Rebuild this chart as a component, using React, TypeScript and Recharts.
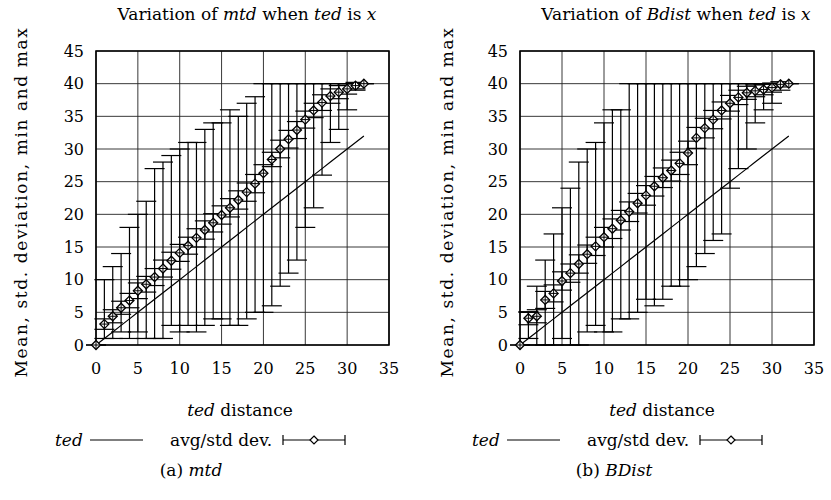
import {
  CartesianGrid,
  ComposedChart,
  ErrorBar,
  Line,
  ReferenceArea,
  XAxis,
  YAxis,
} from "recharts";

const FONT = "'DejaVu Serif', 'Liberation Serif', serif";

const tedX = [
  0, 1, 2, 3, 4, 5, 6, 7, 8, 9, 10, 11, 12, 13, 14, 15, 16, 17, 18, 19, 20,
  21, 22, 23, 24, 25, 26, 27, 28, 29, 30, 31, 32,
];
const tedLine = [
  0, 1, 2, 3, 4, 5, 6, 7, 8, 9, 10, 11, 12, 13, 14, 15, 16, 17, 18, 19, 20,
  21, 22, 23, 24, 25, 26, 27, 28, 29, 30, 31, 32,
];

// (a) mtd
const mtdMean = [
  0, 3.2, 4.4, 5.7, 6.8, 8.3, 9.3, 10.4, 11.7, 12.9, 14.1, 15.2, 16.4, 17.6,
  18.7, 19.9, 21.0, 22.2, 23.4, 24.7, 26.3, 28.4, 30.0, 31.5, 32.9, 34.5, 35.9,
  37.1, 38.1, 38.7, 39.2, 39.7, 40,
];
const mtdStd = [
  0, 0.8, 1.0, 1.0, 1.1, 1.2, 1.2, 1.3, 1.3, 1.3, 1.3, 1.3, 1.4, 1.4, 1.4, 1.4,
  1.4, 1.4, 1.4, 1.4, 1.3, 1.1, 1.35, 1.35, 1.3, 1.3, 1.1, 1.2, 1.1, 1.0, 0.8,
  0.5, 0,
];
const mtdMin = [
  0, 1, 1, 2, 1, 2, 1, 1, 1, 3, 2, 3, 2, 3, 4, 4, 3, 3, 4, 5, 5, 6, 9, 11, 13,
  18, 21, 26, 31, 33, 36, 39, 40,
];
const mtdMax = [
  0, 10, 12, 14, 18, 20, 22, 27, 28, 29, 30, 31, 31, 33, 34, 34, 36, 35, 37, 38,
  40, 40, 40, 40, 40, 40, 40, 40, 40, 40, 40, 40, 40,
];

// (b) BDist
const bdistMean = [
  0, 4.1, 4.4, 6.9, 7.9, 9.8, 11.0, 12.4, 13.9, 15.1, 16.5, 17.8, 19.1, 20.4,
  21.7, 22.9, 24.3, 25.6, 26.7, 27.8, 29.4, 31.7, 33.2, 34.5, 35.9, 37.0, 37.9,
  38.6, 38.9, 39.1, 39.4, 39.9, 40,
];
const bdistStd = [
  0, 1.0, 1.0, 1.3, 1.3, 1.4, 1.4, 1.4, 1.4, 1.4, 1.5, 1.5, 1.5, 1.5, 1.5, 1.5,
  1.5, 1.5, 1.6, 1.7, 1.8, 1.6, 1.5, 1.4, 1.3, 1.2, 1.1, 1.0, 0.9, 0.8, 0.7,
  0.4, 0,
];
const bdistMin = [
  0, 1, 0, 0, 0, 1, 0, 0, 2, 3, 2, 2, 4, 4, 5, 7, 6, 7, 9, 9, 10, 12, 14, 16,
  17, 24, 27, 30, 34, 36, 37, 39, 40,
];
const bdistMax = [
  0, 5, 9, 13, 17, 21, 24, 28, 30, 31, 34, 36, 36, 40, 40, 40, 40, 40, 40, 40,
  40, 40, 40, 40, 40, 40, 40, 40, 40, 40, 40, 40, 40,
];

const xTicks = [0, 5, 10, 15, 20, 25, 30, 35];
const yTicks = [0, 5, 10, 15, 20, 25, 30, 35, 40, 45];

function buildRows(mean: number[], std: number[], min: number[], max: number[]) {
  return tedX.map((x, i) => ({
    x,
    ted: tedLine[i],
    mean: mean[i],
    std: std[i],
    range: [mean[i] - min[i], max[i] - mean[i]],
  }));
}

function Diamond(props: any) {
  const { cx, cy } = props;
  if (cx == null || cy == null) return null;
  const r = 4.5;
  return (
    <g>
      <path
        d={`M${cx},${cy - r}L${cx + r},${cy}L${cx},${cy + r}L${cx - r},${cy}Z`}
        fill="#fff"
        stroke="#000"
        strokeWidth={1.3}
      />
      <path
        d={`M${cx - r},${cy}H${cx + r}M${cx},${cy - r}V${cy + r}`}
        stroke="#000"
        strokeWidth={1}
      />
    </g>
  );
}

const tickStyle = { fill: "#000", fontSize: 16, fontFamily: FONT };

function Panel({
  rows,
  left,
  width,
  margin,
}: {
  rows: ReturnType<typeof buildRows>;
  left: number;
  width: number;
  margin: { top: number; right: number; bottom: number; left: number };
}) {
  return (
    <div style={{ position: "absolute", left, top: 0 }}>
      <ComposedChart width={width} height={390} data={rows} margin={margin}>
        <CartesianGrid stroke="#222" strokeWidth={0.9} />
        <XAxis
          dataKey="x"
          type="number"
          domain={[0, 35]}
          ticks={xTicks}
          interval={0}
          axisLine={false}
          tickLine={false}
          tick={tickStyle}
          tickMargin={12}
          height={30}
        />
        <YAxis
          type="number"
          domain={[0, 45]}
          ticks={yTicks}
          interval={0}
          axisLine={false}
          tickLine={false}
          tick={tickStyle}
          tickMargin={6}
          width={60}
        />
        <ReferenceArea
          x1={0}
          x2={35}
          y1={0}
          y2={45}
          fill="none"
          stroke="#000"
          strokeWidth={1.6}
        />
        <Line
          dataKey="ted"
          stroke="#000"
          strokeWidth={1.2}
          dot={false}
          activeDot={false}
          isAnimationActive={false}
        />
        <Line
          dataKey="mean"
          stroke="none"
          activeDot={false}
          isAnimationActive={false}
          dot={(p: any) => <Diamond key={p.index} {...p} />}
        >
          <ErrorBar dataKey="range" width={10} stroke="#000" strokeWidth={1.2} direction="y" />
          <ErrorBar dataKey="std" width={10} stroke="#000" strokeWidth={1.2} direction="y" />
        </Line>
      </ComposedChart>
    </div>
  );
}

function LegendRow({ x0 }: { x0: number }) {
  // x0 = left of the "ted" word
  const y = 440;
  const sym = x0 + 228;
  return (
    <g>
      <text x={x0} y={y + 6} fontStyle="italic" fontSize={17}>
        ted
      </text>
      <line x1={x0 + 35} x2={x0 + 88} y1={y} y2={y} stroke="#000" strokeWidth={1.2} />
      <text x={x0 + 115} y={y + 6} fontSize={17}>
        avg/std dev.
      </text>
      <line x1={sym} x2={sym + 62} y1={y} y2={y} stroke="#000" strokeWidth={1.2} />
      <line x1={sym} x2={sym} y1={y - 5} y2={y + 5} stroke="#000" strokeWidth={1.2} />
      <line x1={sym + 62} x2={sym + 62} y1={y - 5} y2={y + 5} stroke="#000" strokeWidth={1.2} />
      <path
        d={`M${sym + 31},${y - 4}L${sym + 35},${y}L${sym + 31},${y + 4}L${sym + 27},${y}Z`}
        fill="#fff"
        stroke="#000"
        strokeWidth={1.2}
      />
    </g>
  );
}

export default function App() {
  const mtdRows = buildRows(mtdMean, mtdStd, mtdMin, mtdMax);
  const bdistRows = buildRows(bdistMean, bdistStd, bdistMin, bdistMax);
  return (
    <div
      style={{
        position: "absolute",
        left: 0,
        top: 0,
        width: 831,
        height: 500,
        overflow: "hidden",
        background: "#fff",
        fontFamily: FONT,
      }}
    >
      <Panel
        rows={mtdRows}
        left={0}
        width={415}
        margin={{ top: 51, right: 26, bottom: 15, left: 36 }}
      />
      <Panel
        rows={bdistRows}
        left={425}
        width={406}
        margin={{ top: 51, right: 17, bottom: 15, left: 35 }}
      />
      <svg
        width={831}
        height={500}
        style={{ position: "absolute", left: 0, top: 0, pointerEvents: "none" }}
        fontFamily={FONT}
        fill="#000"
      >
        <text x={247} y={20} textAnchor="middle" fontSize={17}>
          Variation of <tspan fontStyle="italic">mtd</tspan> when{" "}
          <tspan fontStyle="italic">ted</tspan> is <tspan fontStyle="italic">x</tspan>
        </text>
        <text x={676} y={20} textAnchor="middle" fontSize={17}>
          Variation of <tspan fontStyle="italic">Bdist</tspan> when{" "}
          <tspan fontStyle="italic">ted</tspan> is <tspan fontStyle="italic">x</tspan>
        </text>
        <text
          transform="translate(27,202) rotate(-90)"
          textAnchor="middle"
          fontSize={17}
          letterSpacing={1.6}
        >
          Mean, std. deviation, min and max
        </text>
        <text
          transform="translate(453,202) rotate(-90)"
          textAnchor="middle"
          fontSize={17}
          letterSpacing={1.6}
        >
          Mean, std. deviation, min and max
        </text>
        <text x={240} y={416} textAnchor="middle" fontSize={17}>
          <tspan fontStyle="italic">ted</tspan> distance
        </text>
        <text x={662} y={416} textAnchor="middle" fontSize={17}>
          <tspan fontStyle="italic">ted</tspan> distance
        </text>
        <LegendRow x0={55} />
        <LegendRow x0={472} />
        <text x={191} y={476} textAnchor="middle" fontSize={17}>
          (a) <tspan fontStyle="italic">mtd</tspan>
        </text>
        <text x={614} y={476} textAnchor="middle" fontSize={17}>
          (b) <tspan fontStyle="italic">BDist</tspan>
        </text>
      </svg>
    </div>
  );
}
